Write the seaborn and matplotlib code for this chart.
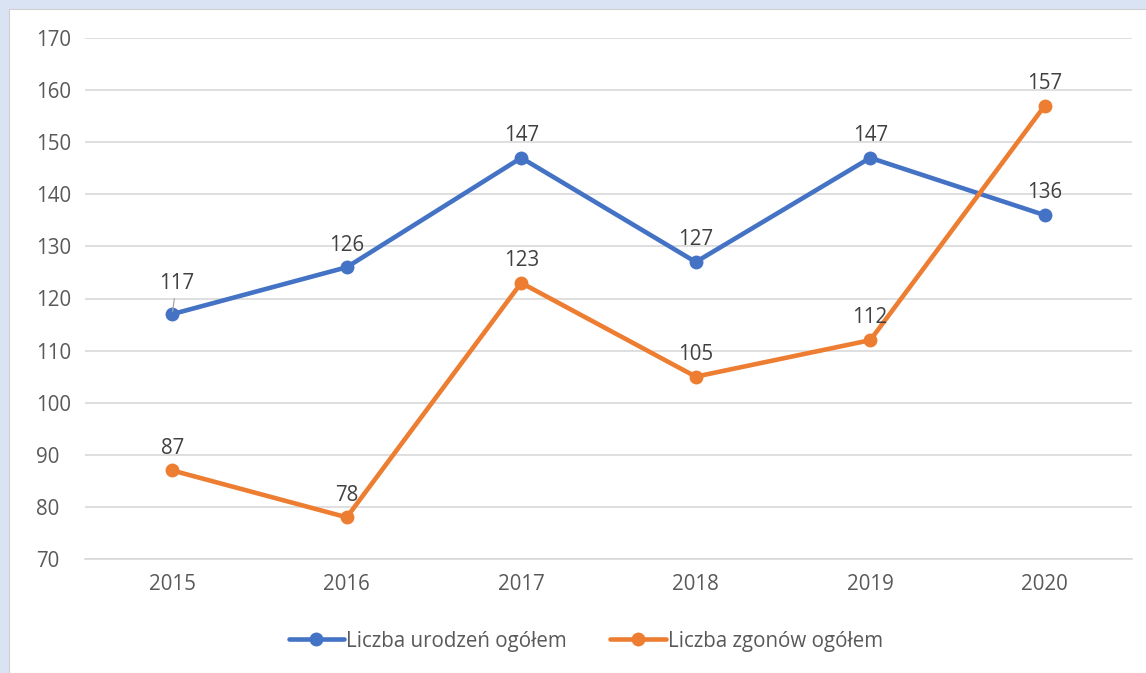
import pandas as pd
import matplotlib
matplotlib.use("Agg")
import matplotlib.pyplot as plt
import seaborn as sns
from matplotlib.patches import Rectangle

# Data
years = ["2015", "2016", "2017", "2018", "2019", "2020"]
births = [117, 126, 147, 127, 147, 136]
deaths = [87, 78, 123, 105, 112, 157]
series_names = ["Liczba urodzeń ogółem", "Liczba zgonów ogółem"]

df = pd.DataFrame({
    "Rok": years * 2,
    "Wartość": births + deaths,
    "Seria": [series_names[0]] * 6 + [series_names[1]] * 6,
})

sns.set_style("white")
plt.rcParams["font.family"] = ["Open Sans", "DejaVu Sans"]

txt = "#595959"
lbl = "#404040"
fs = 14.8
colors = {series_names[0]: "#4472C4", series_names[1]: "#ED7D31"}

fig = plt.figure(figsize=(11.46, 6.73), dpi=100)
fig.patch.set_facecolor("#DAE3F3")
# white chart panel, kept behind the axes
fig.patches.append(Rectangle((9 / 1146, 0), 1, 1 - 9 / 673, transform=fig.transFigure,
                             facecolor="white", edgecolor="#D0D0D0", lw=0.8, zorder=-10))

ax = fig.add_axes([85 / 1146, 1 - 559 / 673, 1047 / 1146, 521 / 673])
ax.set_facecolor("none")

sns.lineplot(data=df, x="Rok", y="Wartość", hue="Seria", palette=colors,
             marker="o", markersize=10, markeredgewidth=0, linewidth=3.3,
             ax=ax, legend=False, sort=False)

ax.set_xlim(-0.5, len(years) - 0.5)
ax.set_ylim(70, 170)
ax.set_yticks(range(70, 171, 10))
ax.yaxis.grid(True, color="#D9D9D9", lw=1.2)
ax.set_axisbelow(True)
for s in ["top", "right", "left"]:
    ax.spines[s].set_visible(False)
ax.spines["bottom"].set_color("#D9D9D9")
ax.spines["bottom"].set_linewidth(1.2)
ax.tick_params(axis="both", length=0, labelsize=fs, colors=txt)
ax.tick_params(axis="x", pad=11)
ax.tick_params(axis="y", pad=35)
for lab in ax.get_yticklabels():
    lab.set_horizontalalignment("left")
ax.set_xlabel("")
ax.set_ylabel("")

# data labels
for i, v in enumerate(births):
    if i == 0:
        ax.annotate(str(v), (i, v), xytext=(3, 22), textcoords="offset points",
                    ha="center", va="center", fontsize=fs, color=lbl,
                    arrowprops=dict(arrowstyle="-", color="#A6A6A6", lw=0.9,
                                    shrinkA=1, shrinkB=2))
    else:
        ax.annotate(str(v), (i, v), xytext=(0, 16), textcoords="offset points",
                    ha="center", va="center", fontsize=fs, color=lbl)
for i, v in enumerate(deaths):
    ax.annotate(str(v), (i, v), xytext=(0, 16), textcoords="offset points",
                ha="center", va="center", fontsize=fs, color=lbl)

handles = [plt.Line2D([], [], color=colors[n], lw=3.3, marker="o", markersize=10,
                      markeredgewidth=0) for n in series_names]
fig.legend(handles, series_names, loc="center", bbox_to_anchor=(0.511, 1 - 641 / 673),
           ncol=2, frameon=False, fontsize=fs, labelcolor=txt, handlelength=2.7,
           handletextpad=0.1, columnspacing=2.1)

fig.savefig("out.png", dpi=100, facecolor=fig.get_facecolor())
